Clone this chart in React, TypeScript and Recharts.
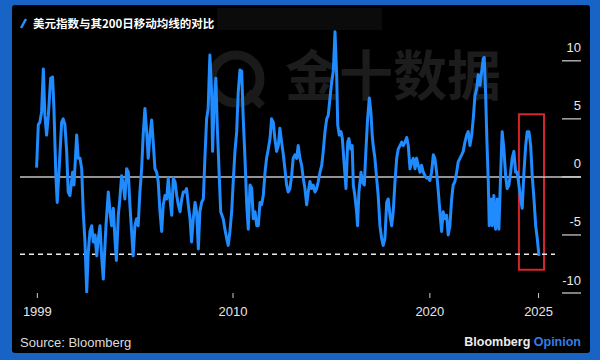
import { LineChart, Line, XAxis, YAxis, ReferenceLine, ReferenceArea } from 'recharts'

// decimal year of each reading
const dates = [
  1998.96, 1999.05, 1999.13, 1999.22, 1999.31, 1999.39, 1999.48, 1999.57, 1999.69, 1999.79, 1999.86, 1999.96,
  2000.03, 2000.14, 2000.26, 2000.34, 2000.43, 2000.52, 2000.6, 2000.69, 2000.83, 2000.9,
  2001.04, 2001.12, 2001.21, 2001.3, 2001.38, 2001.47, 2001.56, 2001.64, 2001.73, 2001.82, 2001.9, 2001.99,
  2002.08, 2002.16, 2002.25, 2002.34, 2002.42, 2002.56, 2002.68, 2002.77, 2002.85, 2002.94,
  2003.03, 2003.1, 2003.2, 2003.28, 2003.37, 2003.46, 2003.54, 2003.63, 2003.72, 2003.8, 2003.89, 2003.97,
  2004.06, 2004.15, 2004.23, 2004.32, 2004.41, 2004.49, 2004.58, 2004.67, 2004.75, 2004.84, 2004.93,
  2005.01, 2005.1, 2005.19, 2005.27, 2005.36, 2005.45, 2005.53, 2005.62, 2005.71, 2005.79, 2005.88, 2005.97,
  2006.05, 2006.14, 2006.23, 2006.31, 2006.4, 2006.49, 2006.57, 2006.66, 2006.74, 2006.83, 2006.92,
  2007.0, 2007.09, 2007.18, 2007.26, 2007.35, 2007.43, 2007.52, 2007.61, 2007.69, 2007.78, 2007.86, 2007.95,
  2008.04, 2008.09, 2008.16, 2008.26, 2008.33, 2008.44, 2008.51, 2008.64, 2008.73, 2008.82, 2008.9, 2008.99,
  2009.08, 2009.16, 2009.25, 2009.34, 2009.42, 2009.51, 2009.6, 2009.68, 2009.77, 2009.86, 2009.94,
  2010.03, 2010.12, 2010.2, 2010.29, 2010.38, 2010.46, 2010.55, 2010.63, 2010.72, 2010.81, 2010.89, 2010.98,
  2011.07, 2011.15, 2011.24, 2011.32, 2011.41, 2011.5, 2011.58, 2011.67, 2011.76, 2011.84, 2011.93,
  2012.01, 2012.1, 2012.19, 2012.27, 2012.36, 2012.45, 2012.53, 2012.62, 2012.71, 2012.79, 2012.88, 2012.97,
  2013.05, 2013.14, 2013.23, 2013.31, 2013.4, 2013.49, 2013.57, 2013.66, 2013.75, 2013.83, 2013.92,
  2014.01, 2014.09, 2014.18, 2014.27, 2014.35, 2014.44, 2014.53, 2014.58, 2014.66, 2014.75, 2014.82, 2014.92,
  2015.01, 2015.1, 2015.16, 2015.25, 2015.33, 2015.39, 2015.47, 2015.56, 2015.61, 2015.68, 2015.79, 2015.85, 2015.96,
  2016.04, 2016.13, 2016.22, 2016.3, 2016.37, 2016.42, 2016.51, 2016.6, 2016.68, 2016.77, 2016.86, 2016.94,
  2017.03, 2017.12, 2017.2, 2017.29, 2017.38, 2017.46, 2017.55, 2017.64, 2017.72, 2017.81, 2017.9, 2017.98,
  2018.07, 2018.16, 2018.24, 2018.33, 2018.42, 2018.5, 2018.59, 2018.67, 2018.76, 2018.85, 2018.93,
  2019.02, 2019.11, 2019.19, 2019.28, 2019.36, 2019.45, 2019.54, 2019.62, 2019.71, 2019.8, 2019.88, 2019.97,
  2020.05, 2020.14, 2020.23, 2020.31, 2020.4, 2020.49, 2020.57, 2020.66, 2020.75, 2020.83, 2020.92,
  2021.01, 2021.09, 2021.18, 2021.27, 2021.35, 2021.44, 2021.53, 2021.61, 2021.7, 2021.79, 2021.87, 2021.96,
  2022.05, 2022.13, 2022.18, 2022.25, 2022.31, 2022.39, 2022.44, 2022.53, 2022.6, 2022.68, 2022.77, 2022.86, 2022.94,
  2023.03, 2023.11, 2023.2, 2023.29, 2023.37, 2023.46, 2023.55, 2023.63, 2023.72, 2023.81, 2023.89, 2023.98,
  2024.07, 2024.15, 2024.24, 2024.33, 2024.41, 2024.5, 2024.59, 2024.67, 2024.76, 2024.85, 2024.93, 2025.02,
]

// dollar index vs its 200-day moving average, %
const gap = [
  0.8, 4.5, 4.7, 5.6, 9.3, 5.3, 3.6, 5.3, 8.5, 8.6, 5.9, 0.1,
  -2.2, 1.0, 4.7, 5.0, 4.5, 2.2, -1.3, -1.6, 0.4, -0.7,
  3.6, 1.6, 1.6, 0.7, -3.0, -5.6, -9.9, -6.5, -4.7, -4.2, -5.6, -5.0,
  -6.8, -5.3, -4.2, -7.0, -8.8, -4.2, -1.3, -3.0, -4.2, -2.7,
  -5.5, -7.2, -3.3, -1.9, 0.1, -0.7, -1.9, 0.7, 0.4, -2.4, -4.7, -6.8,
  -4.2, -3.6, -4.2, -1.3, 0.7, 3.6, 5.9, 3.9, 1.6, 3.6, 4.9,
  3.0, 0.7, 0.4, -0.4, -3.0, -4.7, -2.4, -1.6, -1.9, -0.1, -1.9, -3.3,
  -0.1, -0.4, -1.6, -2.4, -3.0, -1.9, -1.3, -1.3, -1.0, -2.4, -3.6,
  -5.6, -3.6, -2.2, -3.0, -6.2, -3.0, -2.2, -1.9, 1.6, 5.0, 5.9, 10.5,
  7.3, 2.2, 5.9, 8.5, 4.5, -0.1, -3.0, -3.6, -4.5, -5.3, -5.9, -4.7,
  -3.0, -0.4, 2.2, 3.9, 7.3, 9.2, 9.1, 5.0, 1.6, -2.4, -4.5,
  -0.7, -1.0, -3.6, -3.0, -4.2, -4.2, -2.2, -2.4, -1.6, 0.4, 1.6, 2.4,
  3.3, 5.0, 4.7, 3.3, 2.2, 2.7, 4.2, 3.0, 1.9, 0.7, -0.7,
  -1.3, -1.0, 0.1, 1.6, 1.9, 1.6, 2.7, 1.6, 1.0, -0.1, -1.0, -2.4,
  -1.3, -0.4, -1.0, -0.7, -1.3, -1.0, -0.4, 0.4, 1.0, 2.2, 3.9,
  5.0, 5.3, 6.8, 8.2, 9.1, 12.5, 8.5, 4.5, 3.6, 3.9, 3.3, 1.0,
  -1.0, 3.0, 3.3, 2.4, 2.7, -0.7, -1.6, -3.0, -4.2, -1.3, 0.4, -0.4, -0.7,
  2.2, 5.0, 6.8, 5.6, 3.6, 2.7, 1.6, -0.1, -1.6, -4.2, -5.3, -5.9,
  -5.3, -2.2, -1.9, -3.3, -4.2, -3.0, -0.4, 1.6, 2.4, 2.7, 3.0, 2.7,
  3.0, 3.4, 2.7, 0.7, 1.3, 1.6, 0.7, 1.6, 1.0, 0.4, 1.0,
  0.4, 0.1, -0.1, -0.1, -0.3, 0.4, 1.9, 1.6, 0.4, -1.3, -3.0, -4.7,
  -3.0, -3.6, -3.3, -5.0, -4.2, -1.9, -0.7, -0.4, 0.4, 1.3, 1.6,
  1.9, 2.2, 3.0, 3.6, 3.9, 2.7, 3.6, 5.0, 7.0, 7.6, 8.8, 7.9,
  9.1, 10.2, 10.3, 7.3, 3.6, -0.4, -4.2, -1.9, -4.2, -1.6, -4.5, -1.9, -4.5,
  0.1, 3.9, 2.4, 0.1, -1.0, -0.7, 0.4, 1.6, 2.2, 0.4, 0.4, -0.7,
  -1.9, -2.7, 0.4, 2.7, 3.9, 3.9, 2.7, 0.1, -1.9, -4.2, -5.3, -6.8,
]

const yTicks = [-10, -5, 0, 5, 10]
const xTickAt = [1999, 2009.15, 2019.36, 2025]
const xTickLabels = ['1999', '2010', '2020', '2025']
const threshold = -6.66
const boxFrom = 2023.98
const boxTo = 2025.28
const boxLow = -8
const boxHigh = 5.4

const data = dates.map((t, i) => ({ t, v: gap[i] }))

const latin = '"Liberation Sans", Arial, sans-serif'
const cjk = '"Noto Sans CJK SC", sans-serif'

function RightTick(props: any) {
  const { x, y, payload } = props
  return (
    <g>
      <line x1={x - 19} x2={x} y1={y} y2={y} stroke="#d4d4d4" strokeWidth={1.2} />
      <text x={x} y={y - 8.5} textAnchor="end" fill="#e8e8e8" fontSize={13} fontFamily={latin}>
        {payload.value}
      </text>
    </g>
  )
}

export default function App() {
  return (
    <div style={{ position: 'absolute', left: 0, top: 0, width: 600, height: 360 }}>
      <svg width={600} height={360} style={{ position: 'absolute', left: 0, top: 0 }}>
        <rect width={600} height={360} fill="#1763c6" />
        <rect x={12} y={5} width={578} height={348} rx={3} fill="#000" />
        <rect x={217} y={8} width={165} height={22} fill="#0b0b0b" />
        {/* watermark */}
        <circle cx={236} cy={79} r={24} fill="none" stroke="#1a1a1a" strokeWidth={9} />
        <line x1={248} y1={92} x2={262} y2={106} stroke="#1a1a1a" strokeWidth={8} />
        <text x={285} y={96} fontSize={54} fontWeight="bold" fill="#1c1c1c" fontFamily={cjk}>
          金十数据
        </text>
        {/* title */}
        <line x1={21} y1={28} x2={26} y2={19} stroke="#2a8cff" strokeWidth={2.5} />
        <text x={33} y={28} fill="#fff" fontSize={11.5} fontWeight="bold" fontFamily={cjk}>
          美元指数与其200日移动均线的对比
        </text>
        {/* footer */}
        <text x={20} y={347} fill="#dcdcdc" fontSize={13} fontFamily={latin}>
          Source: Bloomberg
        </text>
        <text x={581} y={346} textAnchor="end" fontSize={12.5} fontWeight="bold" fontFamily={latin}>
          <tspan fill="#ececec">Bloomberg </tspan>
          <tspan fill="#2f7fe6">Opinion</tspan>
        </text>
      </svg>
      <div style={{ position: 'absolute', left: 0, top: 0 }}>
        <LineChart width={600} height={360} data={data} margin={{ top: 26, right: 0, left: 20, bottom: 37 }}>
          <XAxis
            type="number"
            dataKey="t"
            domain={[1998.1, 2027.2]}
            ticks={xTickAt}
            interval={0}
            tickFormatter={(v) => xTickLabels[xTickAt.indexOf(v)]}
            axisLine={false}
            tickLine={{ stroke: '#cfcfcf' }}
            tickSize={5}
            tickMargin={9}
            height={30}
            tick={{ fill: '#e6e6e6', fontSize: 13, fontFamily: latin }}
          />
          <YAxis
            orientation="right"
            type="number"
            domain={[-10, 13]}
            ticks={yTicks}
            interval={0}
            width={19}
            axisLine={false}
            tickLine={false}
            tickSize={0}
            tickMargin={0}
            tick={(p: any) => <RightTick {...p} />}
          />
          <ReferenceLine y={0} stroke="#c4c4c4" strokeWidth={1.5} />
          <ReferenceLine
            segment={[{ x: 1998.1, y: threshold }, { x: 2025.85, y: threshold }]}
            stroke="#ececec"
            strokeWidth={1.5}
            strokeDasharray="5 4"
          />
          <Line
            type="linear"
            dataKey="v"
            stroke="#1f8bff"
            strokeWidth={3}
            strokeLinejoin="round"
            dot={false}
            isAnimationActive={false}
          />
          <ReferenceArea
            x1={boxFrom}
            x2={boxTo}
            y1={boxLow}
            y2={boxHigh}
            fill="none"
            stroke="#d3262c"
            strokeWidth={2}
          />
        </LineChart>
      </div>
    </div>
  )
}
